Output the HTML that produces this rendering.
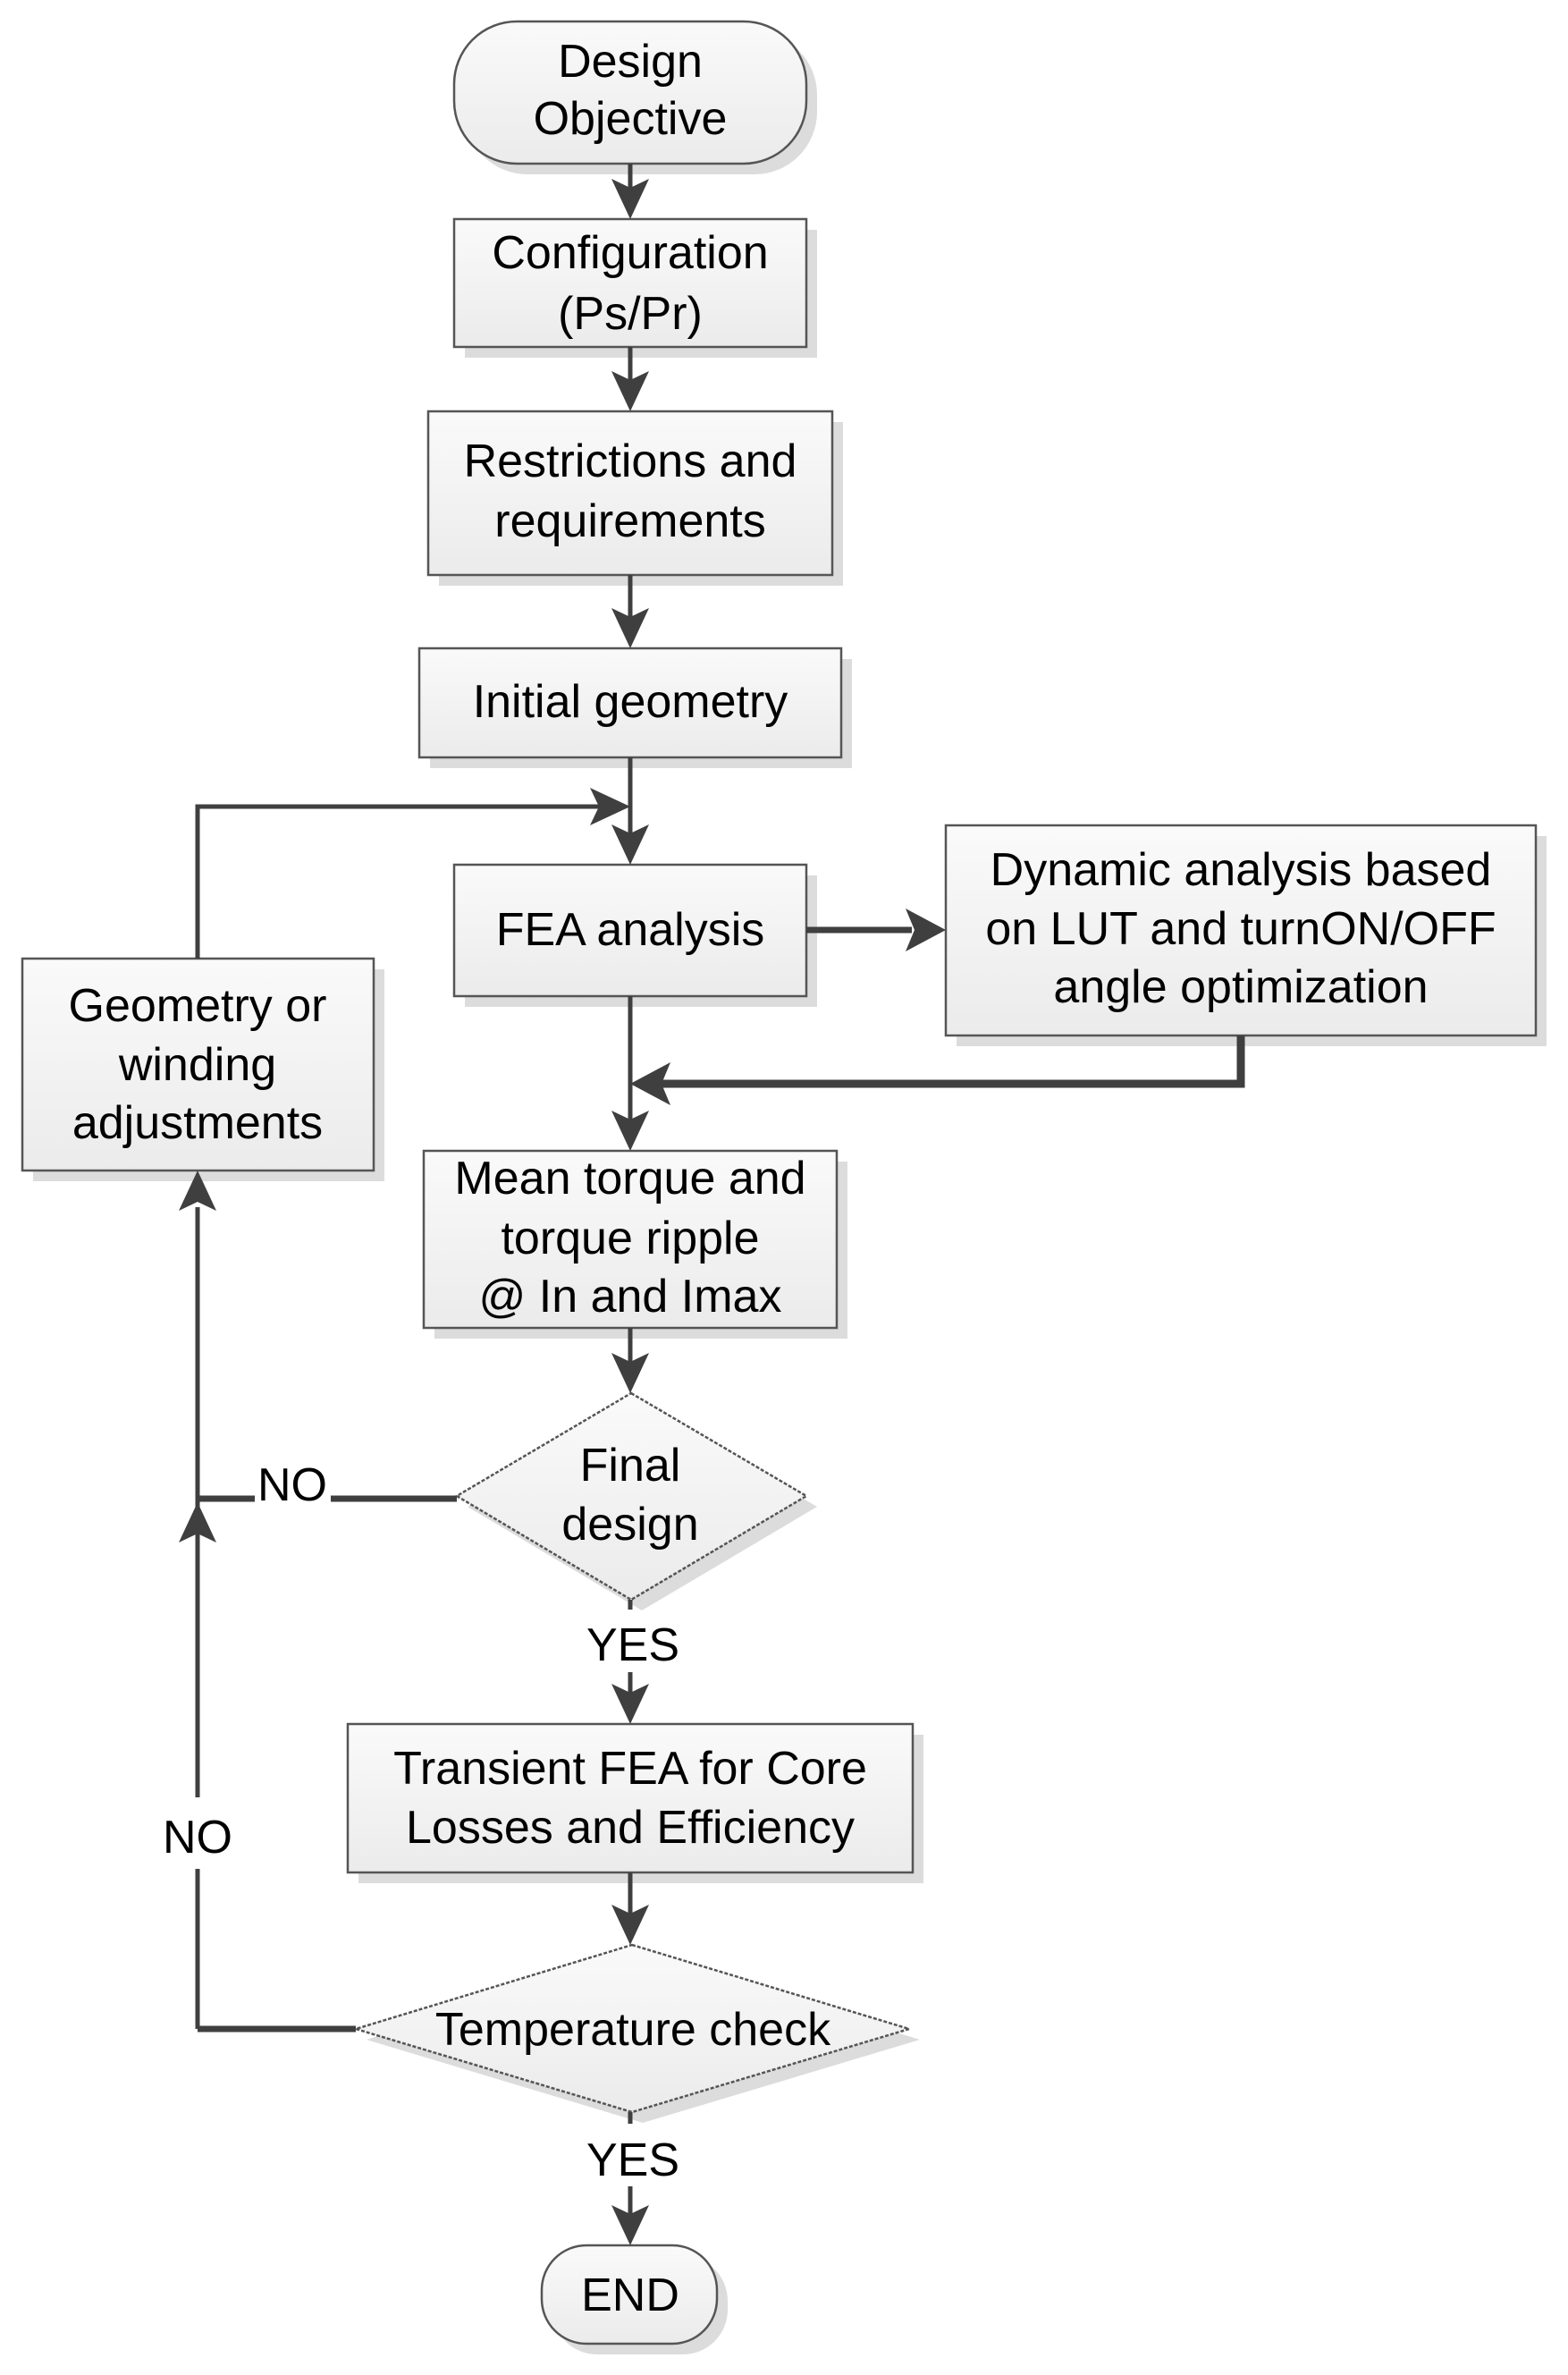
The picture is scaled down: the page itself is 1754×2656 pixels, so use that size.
<!DOCTYPE html>
<html><head><meta charset="utf-8"><style>
html,body{margin:0;padding:0;background:#fff;}
svg{display:block;}
text{font-family:"Liberation Sans",sans-serif;font-size:52px;fill:#000;text-anchor:middle;}
</style></head><body>
<svg width="1754" height="2656" viewBox="0 0 1754 2656" xmlns="http://www.w3.org/2000/svg">
<defs>
<linearGradient id="g" x1="0" y1="0" x2="0" y2="1"><stop offset="0" stop-color="#fafafa"/><stop offset="1" stop-color="#ebebeb"/></linearGradient>
</defs>
<g fill="#dcdcdc">
<rect x="520" y="36" width="394" height="159" rx="70"/>
<rect x="520" y="257" width="394" height="143"/>
<rect x="491" y="472" width="452" height="183"/>
<rect x="481" y="737" width="472" height="122"/>
<rect x="520" y="979" width="394" height="147"/>
<rect x="1070" y="935" width="660" height="235"/>
<rect x="37" y="1084" width="393" height="237"/>
<rect x="486" y="1299" width="462" height="198"/>
<polygon points="718,1570 914,1685 718,1801 523,1685"/>
<rect x="401" y="1940" width="632" height="166"/>
<polygon points="719,2187 1029,2281 719,2374 410,2281"/>
<rect x="618" y="2523" width="196" height="110" rx="50"/>
</g>
<g fill="url(#g)" stroke="#555" stroke-width="2.5">
<rect x="508" y="24" width="394" height="159" rx="70"/>
<rect x="508" y="245" width="394" height="143"/>
<rect x="479" y="460" width="452" height="183"/>
<rect x="469" y="725" width="472" height="122"/>
<rect x="508" y="967" width="394" height="147"/>
<rect x="1058" y="923" width="660" height="235"/>
<rect x="25" y="1072" width="393" height="237"/>
<rect x="474" y="1287" width="462" height="198"/>
<polygon points="706,1558 902,1673 706,1789 511,1673" stroke-dasharray="4 2"/>
<rect x="389" y="1928" width="632" height="166"/>
<polygon points="707,2175 1017,2269 707,2362 398,2269" stroke-dasharray="4 2"/>
<rect x="606" y="2511" width="196" height="110" rx="50"/>
</g>
<g stroke="#3f3f3f" stroke-width="5" fill="none">
<line x1="705" y1="183" x2="705" y2="215"/>
<line x1="705" y1="388" x2="705" y2="430"/>
<line x1="705" y1="643" x2="705" y2="695"/>
<line x1="705" y1="847" x2="705" y2="935"/>
<polyline points="221,1072 221,902 680,902"/>
<line x1="902" y1="1040" x2="1020" y2="1040" stroke-width="7"/>
<line x1="705" y1="1114" x2="705" y2="1255"/>
<polyline points="1388,1158 1388,1212 740,1212" stroke-width="9"/>
<line x1="705" y1="1485" x2="705" y2="1528"/>
<line x1="511" y1="1676" x2="370" y2="1676" stroke-width="7"/>
<line x1="285" y1="1676" x2="221" y2="1676" stroke-width="7"/>
<line x1="221" y1="1350" x2="221" y2="2010"/>
<line x1="221" y1="2090" x2="221" y2="2269"/>
<line x1="221" y1="2269" x2="398" y2="2269" stroke-width="7"/>
<line x1="705" y1="1789" x2="705" y2="1800"/>
<line x1="705" y1="1870" x2="705" y2="1895"/>
<line x1="705" y1="2094" x2="705" y2="2140"/>
<line x1="705" y1="2362" x2="705" y2="2375"/>
<line x1="705" y1="2445" x2="705" y2="2478"/>
</g>
<g fill="#3f3f3f">
<polygon points="705,245 684,200 705,210 726,200"/>
<polygon points="705,460 684,415 705,425 726,415"/>
<polygon points="705,725 684,680 705,690 726,680"/>
<polygon points="705,967 684,922 705,932 726,922"/>
<polygon points="705,902 660,881 670,902 660,923"/>
<polygon points="1058,1040 1013,1016 1023,1040 1013,1064"/>
<polygon points="705,1287 684,1242 705,1252 726,1242"/>
<polygon points="705,1212 750,1188 740,1212 750,1236"/>
<polygon points="705,1558 684,1513 705,1523 726,1513"/>
<polygon points="705,1928 684,1883 705,1893 726,1883"/>
<polygon points="705,2175 684,2130 705,2140 726,2130"/>
<polygon points="705,2511 684,2466 705,2476 726,2466"/>
<polygon points="221,1309 200,1354 221,1344 242,1354"/>
<polygon points="221,1680 200,1725 221,1715 242,1725"/>
</g>
<text x="705" y="86">Design</text>
<text x="705" y="150">Objective</text>
<text x="705" y="300">Configuration</text>
<text x="705" y="368">(Ps/Pr)</text>
<text x="705" y="533">Restrictions and</text>
<text x="705" y="600">requirements</text>
<text x="705" y="802">Initial geometry</text>
<text x="705" y="1057">FEA analysis</text>
<text x="1388" y="990">Dynamic analysis based</text>
<text x="1388" y="1056">on LUT and turnON/OFF</text>
<text x="1388" y="1121">angle optimization</text>
<text x="221" y="1142">Geometry or</text>
<text x="221" y="1208">winding</text>
<text x="221" y="1273">adjustments</text>
<text x="705" y="1335">Mean torque and</text>
<text x="705" y="1402">torque ripple</text>
<text x="705" y="1467">@ In and Imax</text>
<text x="705" y="1656">Final</text>
<text x="705" y="1722">design</text>
<text x="327" y="1678">NO</text>
<text x="708" y="1857">YES</text>
<text x="705" y="1995">Transient FEA for Core</text>
<text x="705" y="2061">Losses and Efficiency</text>
<text x="221" y="2072">NO</text>
<text x="708" y="2287">Temperature check</text>
<text x="708" y="2433">YES</text>
<text x="705" y="2584">END</text>
</svg>
</body></html>
